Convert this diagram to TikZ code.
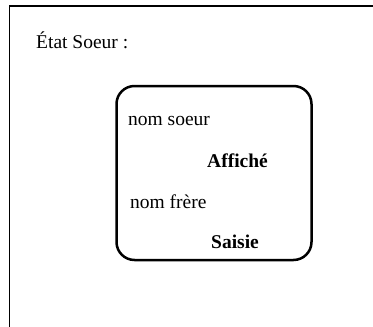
\documentclass[tikz,border=0pt]{standalone}
\usepackage{fontspec}
\setmainfont{Liberation Serif}
\begin{document}
\begin{tikzpicture}[x=1pt,y=-1pt,
  txt/.style={anchor=base west,inner sep=0pt,font=\fontsize{19.5}{22}\selectfont},
  btxt/.style={txt,font=\fontsize{19.5}{22}\selectfont\bfseries},
  statebox/.style={draw,line width=2.5pt,rounded corners=18pt,inner sep=0pt}]
\clip (0,0) rectangle (373,327);
\fill[white] (0,0) rectangle (373,327);
\draw[line width=1.3pt] (9.5,400) -- (9.5,6) -- (400,6);
\node[txt] (titre) at (36,48) {État Soeur :};
\node[statebox,minimum width=195pt,minimum height=174pt] (etat) at (214,173) {};
\node[txt] (ns) at (128,125) {nom soeur};
\node[btxt] (aff) at (207,167) {Affiché};
\node[txt] (nf) at (130,208) {nom frère};
\node[btxt] (sai) at (211,248) {Saisie};
\end{tikzpicture}
\end{document}
